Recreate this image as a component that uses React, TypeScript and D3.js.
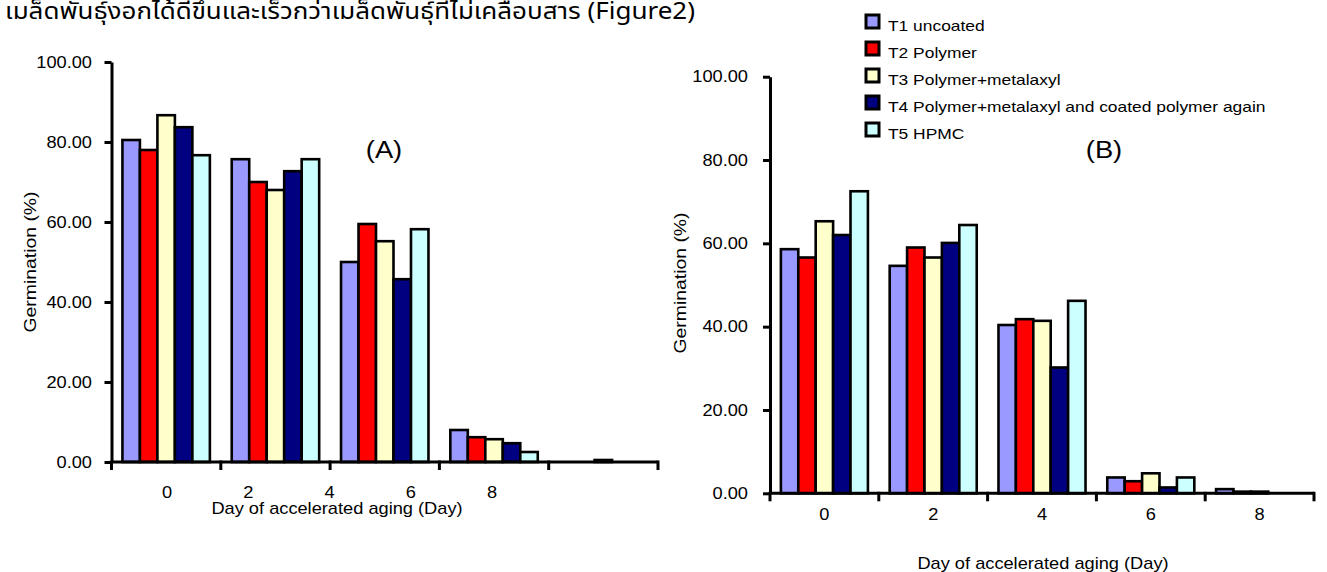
import { useEffect, useRef } from 'react'
import * as d3 from 'd3'

const days = ['0', '2', '4', '6', '8']
const treatments = [
  'T1 uncoated',
  'T2 Polymer',
  'T3 Polymer+metalaxyl',
  'T4 Polymer+metalaxyl and coated polymer again',
  'T5 HPMC',
]
const fills = ['#9999ff', '#ff0000', '#ffffcc', '#000080', '#ccffff']
const yTicks = [0, 20, 40, 60, 80, 100]

// germination (%) per day of aging, panel A
const aT1 = [80.5, 75.7, 50.0, 8.0, 0]
const aT2 = [78.0, 70.0, 59.5, 6.2, 0]
const aT3 = [86.7, 68.0, 55.2, 5.7, 0.5]
const aT4 = [83.7, 72.7, 45.7, 4.7, 0]
const aT5 = [76.7, 75.7, 58.2, 2.5, 0]

// panel B
const bT1 = [58.6, 54.6, 40.4, 3.8, 1.0]
const bT2 = [56.6, 59.0, 41.8, 2.9, 0.4]
const bT3 = [65.3, 56.6, 41.4, 4.8, 0.4]
const bT4 = [62.0, 60.1, 30.2, 1.4, 0]
const bT5 = [72.5, 64.4, 46.2, 3.8, 0]

const heading = 'เมล็ดพันธุ์งอกได้ดีขึ้นและเร็วกว่าเมล็ดพันธุ์ที่ไม่เคลือบสาร (Figure2)'
const FONT = '"Liberation Sans", Arial, sans-serif'
const SX = 1.14

const panels = [
  {
    series: [aT1, aT2, aT3, aT4, aT5], tag: '(A)',
    left: 111.5, right: 658, top: 62, bottom: 462,
    tagX: 384, tagY: 150, tickLabelX: 92, yTitleX: 30, yTitleY: 262,
    dayRange: [167, 492], dayY: 492, xTitleX: 337, xTitleY: 508,
  },
  {
    series: [bT1, bT2, bT3, bT4, bT5], tag: '(B)',
    left: 770, right: 1314, top: 76.7, bottom: 493.3,
    tagX: 1104, tagY: 150, tickLabelX: 748, yTitleX: 680, yTitleY: 283,
    dayRange: null, dayY: 514, xTitleX: 1043, xTitleY: 563,
  },
]

function label(g, x, y, str, size, anchor = 'middle', rotate = 0, sx = SX) {
  return g.append('text')
    .attr('transform', `translate(${x},${y}) rotate(${rotate}) scale(${sx},1)`)
    .attr('text-anchor', anchor)
    .attr('dominant-baseline', 'central')
    .attr('font-family', FONT)
    .attr('font-size', size)
    .attr('fill', '#000')
    .text(str)
}

export default function App() {
  const ref = useRef(null)

  useEffect(() => {
    const svg = d3.select(ref.current)
    svg.selectAll('*').remove()

    // heading sits against the top edge, as in the source page
    svg.append('text')
      .attr('x', 5).attr('y', 19)
      .attr('font-family', '"Noto Sans Thai", "Noto Sans", sans-serif')
      .attr('font-size', 23)
      .attr('textLength', 690)
      .attr('lengthAdjust', 'spacingAndGlyphs')
      .text(heading)

    panels.forEach((p) => {
      const g = svg.append('g')
      const x0 = d3.scaleBand().domain(days).range([p.left, p.right]).paddingInner(0.2).paddingOuter(0.1)
      const x1 = d3.scaleBand().domain(treatments).range([0, x0.bandwidth()])
      const y = d3.scaleLinear().domain([0, 100]).range([p.bottom, p.top])
      const step = x0.step()

      // bars
      p.series.forEach((vals, si) => {
        g.append('g').selectAll('rect')
          .data(vals)
          .join('rect')
          .attr('x', (d, i) => x0(days[i]) + x1(treatments[si]))
          .attr('width', x1.bandwidth())
          .attr('y', (d) => y(d))
          .attr('height', (d) => y(0) - y(d))
          .attr('fill', fills[si])
          .attr('stroke', '#000')
          .attr('stroke-width', 2.6)
      })

      // y axis
      g.append('g')
        .attr('transform', `translate(${p.left},0)`)
        .call(d3.axisLeft(y).tickValues(yTicks).tickSize(7).tickSizeOuter(0).tickFormat(() => ''))
        .call((s) => {
          s.select('.domain').attr('stroke', '#000').attr('stroke-width', 3)
          s.selectAll('.tick line').attr('stroke', '#000').attr('stroke-width', 3)
        })
      yTicks.forEach((t) => label(g, p.tickLabelX, y(t), d3.format('.2f')(t), 16, 'end'))

      // x axis with ticks between groups
      g.append('line')
        .attr('x1', p.left).attr('x2', p.right)
        .attr('y1', y(0)).attr('y2', y(0))
        .attr('stroke', '#000').attr('stroke-width', 3)
      g.selectAll('line.xt')
        .data(d3.range(days.length + 1))
        .join('line')
        .attr('class', 'xt')
        .attr('x1', (i) => p.left + i * step).attr('x2', (i) => p.left + i * step)
        .attr('y1', y(0) - 1.5).attr('y2', y(0) + 8)
        .attr('stroke', '#000').attr('stroke-width', 3)

      const dayPos = p.dayRange
        ? d3.scalePoint().domain(days).range(p.dayRange)
        : (d) => x0(d) + x0.bandwidth() / 2
      days.forEach((d) => label(g, dayPos(d), p.dayY, d, 16))

      label(g, p.xTitleX, p.xTitleY, 'Day of accelerated aging (Day)', 16)
      label(g, p.yTitleX, p.yTitleY, 'Germination (%)', 17, 'middle', -90)
      label(g, p.tagX, p.tagY, p.tag, 24)
    })

    // legend
    const legend = svg.append('g')
    const ly = d3.scalePoint().domain(treatments).range([25, 133])
    treatments.forEach((t, i) => {
      legend.append('rect')
        .attr('x', 866).attr('y', ly(t) - 10)
        .attr('width', 13).attr('height', 13)
        .attr('fill', fills[i])
        .attr('stroke', '#000').attr('stroke-width', 3)
      label(legend, 888, ly(t), t, 15, 'start', 0, 1.16)
    })
  }, [])

  return (
    <svg
      ref={ref}
      width={1327}
      height={572}
      style={{ position: 'absolute', left: 0, top: 0, background: '#fff' }}
    />
  )
}
